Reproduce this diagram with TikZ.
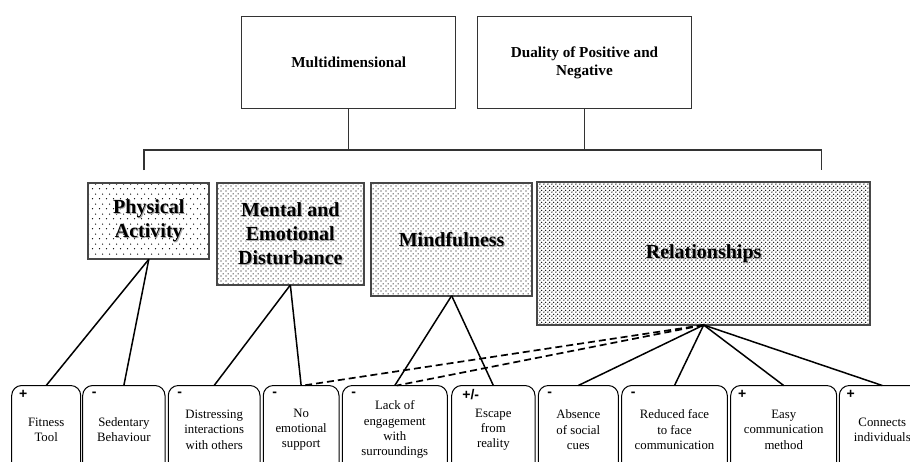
\documentclass[tikz,border=0pt]{standalone}
\usepackage{fontspec}
\setmainfont{Liberation Serif}
\newfontfamily\signfont{Liberation Sans}
\usetikzlibrary{patterns,calc}
\pgfdeclarepatternformonly{dotsA}{\pgfqpoint{0pt}{0pt}}{\pgfqpoint{7pt}{10pt}}{\pgfqpoint{7pt}{10pt}}{%
 \pgfpathcircle{\pgfqpoint{1.75pt}{2.5pt}}{0.75pt}%
 \pgfpathcircle{\pgfqpoint{5.25pt}{7.5pt}}{0.75pt}%
 \pgfusepath{fill}}
\pgfdeclarepatternformonly{dotsB}{\pgfqpoint{0pt}{0pt}}{\pgfqpoint{5pt}{5pt}}{\pgfqpoint{5pt}{5pt}}{%
 \pgfpathcircle{\pgfqpoint{1.25pt}{1.25pt}}{0.72pt}%
 \pgfpathcircle{\pgfqpoint{3.75pt}{3.75pt}}{0.72pt}%
 \pgfusepath{fill}}
\pgfdeclarepatternformonly{dotsC}{\pgfqpoint{0pt}{0pt}}{\pgfqpoint{3.8pt}{3.8pt}}{\pgfqpoint{3.8pt}{3.8pt}}{%
 \pgfpathcircle{\pgfqpoint{0.95pt}{0.95pt}}{0.75pt}%
 \pgfpathcircle{\pgfqpoint{2.85pt}{2.85pt}}{0.75pt}%
 \pgfusepath{fill}}
\begin{document}
\begin{tikzpicture}[x=1pt,y=-1pt,
  topbox/.style={draw=black!80, line width=1.3pt, fill=white, inner sep=0pt, outer sep=0pt, anchor=north west, align=center, font=\fontsize{15.2}{18}\selectfont\bfseries},
  midbox/.style={draw=black!72, line width=2pt, inner sep=0pt, outer sep=0pt, anchor=north west},
  midtxt/.style={inner sep=0pt, align=center, font=\fontsize{20}{24}\selectfont\bfseries},
  leaf/.style={draw=black, line width=1pt, rounded corners=10pt, fill=white, inner sep=0pt, outer sep=0pt, anchor=north west, minimum height=88.5pt, align=center, font=\fontsize{12.8}{15.3}\selectfont},
  sign/.style={font=\signfont\bfseries\fontsize{14}{14}\selectfont, inner sep=0pt, anchor=center},
  link/.style={line width=1.5pt, black},
  dlink/.style={line width=1.7pt, black, dash pattern=on 7pt off 4pt},
  bus/.style={line width=1.3pt, black!80},
]
\useasboundingbox (0,0) rectangle (910,461);
\fill[white] (0,0) rectangle (910,461);
\clip (0,0) rectangle (910,461);

% top boxes
\node[topbox, minimum width=214pt, minimum height=91.6pt] (multi) at (241.7,16.7) {Multidimensional};
\node[topbox, minimum width=213.6pt, minimum height=91.6pt] (dual) at (477.7,16.7) {Duality of Positive and\\Negative};

% bus
\coordinate (bl) at (144,150);
\coordinate (br) at (821.3,150);
\coordinate (dl) at (144,170);
\coordinate (dr) at (821.3,170);
\draw[bus] (dl) -- (bl) -- (br) -- (dr);
\draw[bus] (multi.south) -- (multi.south |- bl);
\draw[bus] (dual.south) -- (dual.south |- bl);

% middle boxes
\node[midbox, preaction={pattern=dotsA}, minimum width=121pt, minimum height=76.6pt] (pa) at (88.3,182.7) {};
\node[midbox, preaction={pattern=dotsB}, minimum width=147.3pt, minimum height=102.3pt] (med) at (216.7,182.7) {};
\node[midbox, preaction={pattern=dotsB}, minimum width=161.3pt, minimum height=113pt] (mind) at (371,182.7) {};
\node[midbox, preaction={pattern=dotsC}, minimum width=332.7pt, minimum height=142.7pt] (rel) at (537.3,182.3) {};

\node[midtxt, text=black!35] (pa-s) at ($(pa.center)+(1,1)$) {Physical\\Activity};
\node[midtxt] (pa-t) at (pa.center) {Physical\\Activity};
\node[midtxt, text=black!35] (med-s) at ($(med.center)+(1,1)$) {Mental and\\Emotional\\Disturbance};
\node[midtxt] (med-t) at (med.center) {Mental and\\Emotional\\Disturbance};
\node[midtxt, text=black!35] (mind-s) at ($(mind.center)+(1,1)$) {Mindfulness};
\node[midtxt] (mind-t) at (mind.center) {Mindfulness};
\node[midtxt, text=black!35] (rel-s) at ($(rel.center)+(1,1)$) {Relationships};
\node[midtxt] (rel-t) at (rel.center) {Relationships};

% leaves
\node[leaf, minimum width=69pt] (l1) at (11.7,385.5) {Fitness\\Tool};
\node[leaf, minimum width=82.3pt] (l2) at (82.7,385.5) {Sedentary\\Behaviour};
\node[leaf, minimum width=91.7pt] (l3) at (168.3,385.5) {Distressing\\interactions\\with others};
\node[leaf, minimum width=75.7pt] (l4) at (263.3,385.5) {No\\emotional\\support};
\node[leaf, minimum width=105pt] (l5) at (342.3,385.5) {Lack of\\engagement\\with\\surroundings};
\node[leaf, minimum width=83.3pt] (l6) at (451.7,385.5) {Escape\\from\\reality};
\node[leaf, minimum width=80pt] (l7) at (538.3,385.5) {Absence\\of social\\cues};
\node[leaf, minimum width=105.6pt] (l8) at (621.7,385.5) {Reduced face\\to face\\communication};
\node[leaf, minimum width=106pt] (l9) at (730.7,385.5) {Easy\\communication\\method};
\node[leaf, minimum width=86pt] (l10) at (839.3,385.5) {Connects\\individuals};

% signs
\node[sign] (s1) at ($(l1.north west)+(11.5,9)$) {+};
\node[sign] (s2) at ($(l2.north west)+(11.5,9)$) {-};
\node[sign] (s3) at ($(l3.north west)+(11.5,9)$) {-};
\node[sign] (s4) at ($(l4.north west)+(11.5,9)$) {-};
\node[sign] (s5) at ($(l5.north west)+(11.5,9)$) {-};
\node[sign] (s6) at ($(l6.north west)+(19,9)$) {+/-};
\node[sign] (s7) at ($(l7.north west)+(11.5,9)$) {-};
\node[sign] (s8) at ($(l8.north west)+(11.5,9)$) {-};
\node[sign] (s9) at ($(l9.north west)+(11.5,9)$) {+};
\node[sign] (s10) at ($(l10.north west)+(11.5,9)$) {+};

% connectors
\draw[link] (pa.south) -- (l1.north);
\draw[link] (pa.south) -- (l2.north);
\draw[link] (med.south) -- (l3.north);
\draw[link] (med.south) -- (l4.north);
\draw[link] (mind.south) -- (l5.north);
\draw[link] (mind.south) -- (l6.north);
\draw[link] (rel.south) -- (l7.north);
\draw[link] (rel.south) -- (l8.north);
\draw[link] (rel.south) -- (l9.north);
\draw[link] (rel.south) -- (l10.north);
\draw[dlink] (rel.south) -- ([xshift=2pt]l4.north);
\draw[dlink] (rel.south) -- ([xshift=2pt]l5.north);
\end{tikzpicture}
\end{document}
